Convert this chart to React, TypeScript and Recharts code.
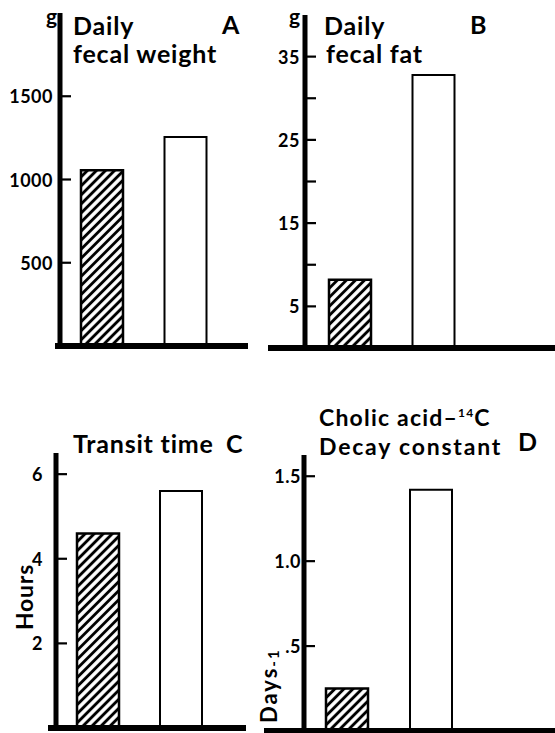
import { BarChart, Bar, Cell, XAxis, YAxis } from 'recharts';

// groups in each panel: hatched bar first, open bar second
const groups = ['Group 1', 'Group 2'];

const fecalWeight = [1055, 1255];
const fecalFat = [8.2, 32.8];
const transitTime = [4.6, 5.6];
const decayConstant = [0.25, 1.42];

const weightTicks = [500, 1000, 1500];
const weightLabels = ['500', '1000', '1500'];
const fatTicks = [5, 10, 15, 20, 25, 30, 35];
const fatLabels = ['5', '', '15', '', '25', '', '35'];
const transitTicks = [2, 4, 6];
const transitLabels = ['2', '4', '6'];
const decayTicks = [0.5, 1.0, 1.5];
const decayLabels = ['.5', '1.0', '1.5'];

const FONT = 'Lato, "DejaVu Sans", sans-serif';

function rowsOf(values: number[]) {
  return groups.map((g, i) => ({ group: g, value: values[i] }));
}

function InTick(props: any) {
  const { x, y, payload, ticks, labels, offset, fontSize } = props;
  const idx = ticks.indexOf(payload.value);
  const label = idx >= 0 ? labels[idx] : '';
  return (
    <g>
      <line x1={x + 2} y1={y} x2={x + 11} y2={y} stroke="#000" strokeWidth={2.2} />
      {label && (
        <text
          x={x - offset}
          y={y}
          textAnchor="end"
          dominantBaseline="central"
          fontFamily={FONT}
          fontWeight={700}
          fontSize={fontSize}
          letterSpacing={0.5}
          fill="#000"
        >
          {label}
        </text>
      )}
    </g>
  );
}

interface PanelProps {
  id: string;
  values: number[];
  domain: [number, number];
  ticks: number[];
  labels: string[];
  labelOffset: number;
  width: number;
  height: number;
  margin: { top: number; right: number; bottom: number; left: number };
  yWidth: number;
  padding: { left: number; right: number };
}

function Panel(p: PanelProps) {
  const data = rowsOf(p.values);
  return (
    <BarChart width={p.width} height={p.height} data={data} margin={p.margin}>
      <defs>
        <pattern
          id={`hatch-${p.id}`}
          patternUnits="userSpaceOnUse"
          width={6.4}
          height={6.4}
          patternTransform="rotate(45)"
        >
          <rect width={6.4} height={6.4} fill="#fff" />
          <line x1={3.2} y1={0} x2={3.2} y2={6.4} stroke="#000" strokeWidth={2.9} />
        </pattern>
      </defs>
      <XAxis
        dataKey="group"
        tick={false}
        tickLine={false}
        height={1}
        padding={p.padding}
        axisLine={{ stroke: '#000', strokeWidth: 6 }}
      />
      <YAxis
        type="number"
        domain={p.domain}
        ticks={p.ticks}
        interval={0}
        width={p.yWidth}
        tickSize={0}
        tickMargin={0}
        tickLine={false}
        axisLine={{ stroke: '#000', strokeWidth: 5 }}
        tick={(tp: any) => (
          <InTick {...tp} ticks={p.ticks} labels={p.labels} offset={p.labelOffset} fontSize={18} />
        )}
      />
      <Bar dataKey="value" barSize={42} isAnimationActive={false}>
        {data.map((d, i) => (
          <Cell
            key={d.group}
            fill={i === 0 ? `url(#hatch-${p.id})` : '#fff'}
            stroke="#000"
            strokeWidth={i === 0 ? 2.5 : 2}
          />
        ))}
      </Bar>
    </BarChart>
  );
}

const titleStyle = {
  fontFamily: FONT,
  fontWeight: 700,
  fontSize: 25,
  letterSpacing: 0.8,
  fill: '#000',
} as const;

export default function App() {
  return (
    <div
      style={{
        position: 'absolute',
        left: 0,
        top: 0,
        width: 555,
        height: 733,
        background: '#fff',
        overflow: 'hidden',
      }}
    >
      <div style={{ position: 'absolute', left: 0, top: 0 }}>
        <Panel
          id="a"
          values={fecalWeight}
          domain={[0, 2000]}
          ticks={weightTicks}
          labels={weightLabels}
          labelOffset={7}
          width={260}
          height={360}
          margin={{ top: 13, right: 12, bottom: 13, left: 0 }}
          yWidth={60}
          padding={{ left: 0, right: 21 }}
        />
      </div>
      <div style={{ position: 'absolute', left: 260, top: 0 }}>
        <Panel
          id="b"
          values={fecalFat}
          domain={[0, 40]}
          ticks={fatTicks}
          labels={fatLabels}
          labelOffset={5}
          width={295}
          height={360}
          margin={{ top: 15, right: 0, bottom: 11, left: 0 }}
          yWidth={45}
          padding={{ left: 3, right: 80 }}
        />
      </div>
      <div style={{ position: 'absolute', left: 0, top: 370 }}>
        <Panel
          id="c"
          values={transitTime}
          domain={[0, 6.5]}
          ticks={transitTicks}
          labels={transitLabels}
          labelOffset={13}
          width={260}
          height={363}
          margin={{ top: 83, right: 14, bottom: 4, left: 0 }}
          yWidth={56}
          padding={{ left: 0, right: 24 }}
        />
      </div>
      <div style={{ position: 'absolute', left: 260, top: 370 }}>
        <Panel
          id="d"
          values={decayConstant}
          domain={[0, 1.625]}
          ticks={decayTicks}
          labels={decayLabels}
          labelOffset={3}
          width={295}
          height={363}
          margin={{ top: 85, right: 0, bottom: 1, left: 0 }}
          yWidth={44}
          padding={{ left: 1, right: 82 }}
        />
      </div>
      <svg
        width={555}
        height={733}
        style={{ position: 'absolute', left: 0, top: 0, pointerEvents: 'none' }}
      >
        {/* baseline stubs left of the y axes */}
        <line x1={55} y1={346} x2={60} y2={346} stroke="#000" strokeWidth={6} />
        <line x1={268} y1={348} x2={305} y2={348} stroke="#000" strokeWidth={6} />
        <line x1={48} y1={728} x2={56} y2={728} stroke="#000" strokeWidth={6} />
        <line x1={264} y1={731} x2={304} y2={731} stroke="#000" strokeWidth={6} />

        <text x={46} y={24} {...titleStyle} fontSize={21}>g</text>
        <text x={73} y={35} {...titleStyle}>Daily</text>
        <text x={73} y={63} {...titleStyle}>fecal weight</text>
        <text x={222} y={34} {...titleStyle}>A</text>

        <text x={289} y={24} {...titleStyle} fontSize={21}>g</text>
        <text x={324} y={35} {...titleStyle}>Daily</text>
        <text x={326} y={63} {...titleStyle}>fecal fat</text>
        <text x={470} y={34} {...titleStyle}>B</text>

        <text x={73} y={453} {...titleStyle}>Transit time</text>
        <text x={226} y={453} {...titleStyle}>C</text>
        <text transform="translate(33 597) rotate(-90)" textAnchor="middle" {...titleStyle} fontSize={23}>
          Hours
        </text>

        <text x={319} y={426} {...titleStyle} fontSize={23} letterSpacing={1.2}>
          Cholic acid–<tspan fontSize={12} dy={-9}>14</tspan>
          <tspan dy={9}>C</tspan>
        </text>
        <text x={319} y={455} {...titleStyle} fontSize={23} letterSpacing={1.8}>
          Decay constant
        </text>
        <text x={518} y={451} {...titleStyle}>D</text>
        <text transform="translate(277 723) rotate(-90)" {...titleStyle} fontSize={22} letterSpacing={2}>
          Days<tspan fontSize={15} dy={2}>-1</tspan>
        </text>
      </svg>
    </div>
  );
}
